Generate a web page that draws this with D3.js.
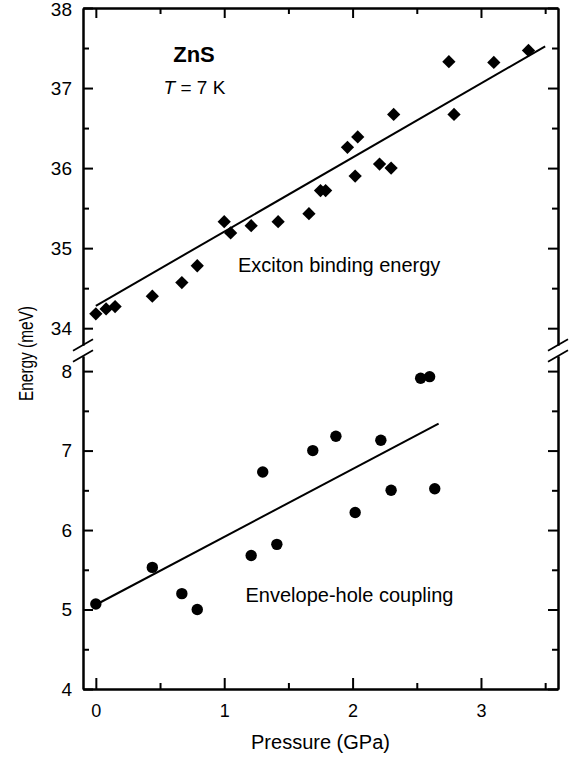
<!DOCTYPE html>
<html lang="en">
<head>
	<meta charset="utf-8">
	<title>ZnS exciton energy vs pressure</title>
	<script src="https://d3js.org/d3.v7.min.js" charset="utf-8"></script>

	<style>
		body {
			margin: 0;
			background: white;
		}

		text {
			font-family: "Liberation Sans", Arial, sans-serif;
			fill: #000;
		}

		.frame path.domain,
		.frame line {
			stroke: #000;
			stroke-width: 2;
		}
	</style>
</head>
<body>

	<div id="main"></div>

	<script type="text/javascript">
		// values
		var excitonP = [0.00, 0.08, 0.15, 0.44, 0.67, 0.79, 1.00, 1.05, 1.21, 1.42, 1.66, 1.75, 1.79, 1.96, 2.02, 2.04, 2.21, 2.30, 2.32, 2.75, 2.79, 3.10, 3.37];
		var excitonE = [34.18, 34.24, 34.27, 34.40, 34.57, 34.78, 35.33, 35.19, 35.28, 35.33, 35.43, 35.72, 35.72, 36.26, 35.90, 36.39, 36.05, 36.00, 36.67, 37.33, 36.67, 37.32, 37.47];

		var couplingP = [0.00, 0.44, 0.67, 0.79, 1.21, 1.30, 1.41, 1.69, 1.87, 2.02, 2.22, 2.30, 2.53, 2.60, 2.64];
		var couplingE = [5.07, 5.53, 5.20, 5.00, 5.68, 6.73, 5.82, 7.00, 7.18, 6.22, 7.13, 6.50, 7.91, 7.93, 6.52];

		// linear fits
		var excitonFitP = [0, 3.5];
		var excitonFitE = [34.28, 37.52];
		var couplingFitP = [0, 2.67];
		var couplingFitE = [5.06, 7.34];

		var xTicks = [0, 1, 2, 3];
		var xMinor = [0.5, 1.5, 2.5, 3.5];
		var topTicks = [34, 35, 36, 37, 38];
		var topMinor = [34.5, 35.5, 36.5, 37.5];
		var botTicks = [4, 5, 6, 7, 8];
		var botMinor = [4.5, 5.5, 6.5, 7.5];

		var width = 574;
		var height = 762;

		var svg = d3.select("#main").append("svg")
			.attr("width", width)
			.attr("height", height);

		var x = d3.scaleLinear()
			.domain([-0.1, 3.6])
			.range([83, 558]);

		// broken y axis: two scales stacked
		var yTop = d3.scaleLinear()
			.domain([33.79, 38])
			.range([345, 8]);

		var yBot = d3.scaleLinear()
			.domain([4, 8.19])
			.range([689, 356]);

		var fmt = d3.format("d");

		function styleAxis(g, size) {
			g.attr("class", "frame")
				.attr("font-family", null)
				.attr("font-size", size);
			g.selectAll("text").attr("fill", "#000");
		}

		// bottom axis with labels
		svg.append("g")
			.attr("transform", "translate(0," + yBot.range()[0] + ")")
			.call(d3.axisBottom(x).tickValues(xTicks).tickSize(-11).tickSizeOuter(0).tickPadding(15).tickFormat(fmt))
			.call(styleAxis, 18);
		svg.append("g")
			.attr("transform", "translate(0," + yBot.range()[0] + ")")
			.call(d3.axisBottom(x).tickValues(xMinor).tickSize(-6).tickSizeOuter(0).tickFormat(""))
			.call(styleAxis, 18);

		// top axis
		svg.append("g")
			.attr("transform", "translate(0," + yTop.range()[1] + ")")
			.call(d3.axisTop(x).tickValues(xTicks).tickSize(-10).tickSizeOuter(0).tickFormat(""))
			.call(styleAxis, 18);
		svg.append("g")
			.attr("transform", "translate(0," + yTop.range()[1] + ")")
			.call(d3.axisTop(x).tickValues(xMinor).tickSize(-6).tickSizeOuter(0).tickFormat(""))
			.call(styleAxis, 18);

		// left and right axes, both panels
		[[yTop, topTicks, topMinor], [yBot, botTicks, botMinor]].forEach(function(p) {
			svg.append("g")
				.attr("transform", "translate(" + x.range()[0] + ",0)")
				.call(d3.axisLeft(p[0]).tickValues(p[1]).tickSize(-10).tickSizeOuter(0).tickPadding(11).tickFormat(fmt))
				.call(styleAxis, 19);
			svg.append("g")
				.attr("transform", "translate(" + x.range()[0] + ",0)")
				.call(d3.axisLeft(p[0]).tickValues(p[2]).tickSize(-6).tickSizeOuter(0).tickFormat(""))
				.call(styleAxis, 19);
			svg.append("g")
				.attr("transform", "translate(" + x.range()[1] + ",0)")
				.call(d3.axisRight(p[0]).tickValues(p[1]).tickSize(-10).tickSizeOuter(0).tickFormat(""))
				.call(styleAxis, 19);
			svg.append("g")
				.attr("transform", "translate(" + x.range()[1] + ",0)")
				.call(d3.axisRight(p[0]).tickValues(p[2]).tickSize(-6).tickSizeOuter(0).tickFormat(""))
				.call(styleAxis, 19);
		});

		// the top label sits against the edge, push it down a touch
		svg.selectAll(".tick text")
			.filter(function(d) { return d === 38; })
			.attr("dy", "0.4em");

		// break marks
		var breaks = [];
		x.range().forEach(function(bx) {
			breaks.push([bx, yTop.range()[0]]);
			breaks.push([bx, yBot.range()[1]]);
		});
		svg.append("g")
			.selectAll("line")
			.data(breaks)
			.enter().append("line")
			.attr("x1", function(d) { return d[0] - 10; })
			.attr("y1", function(d) { return d[1] + 5.7; })
			.attr("x2", function(d) { return d[0] + 10; })
			.attr("y2", function(d) { return d[1] - 5.7; })
			.attr("stroke", "#000")
			.attr("stroke-width", 1.8);

		// fit lines
		var topLine = d3.line()
			.x(function(d) { return x(d[0]); })
			.y(function(d) { return yTop(d[1]); });
		var botLine = d3.line()
			.x(function(d) { return x(d[0]); })
			.y(function(d) { return yBot(d[1]); });

		svg.append("path")
			.datum(d3.zip(excitonFitP, excitonFitE))
			.attr("d", topLine)
			.attr("fill", "none")
			.attr("stroke", "#000")
			.attr("stroke-width", 2);

		svg.append("path")
			.datum(d3.zip(couplingFitP, couplingFitE))
			.attr("d", botLine)
			.attr("fill", "none")
			.attr("stroke", "#000")
			.attr("stroke-width", 2);

		// exciton binding energy: diamonds
		svg.append("g")
			.selectAll("path")
			.data(d3.zip(excitonP, excitonE))
			.enter().append("path")
			.attr("d", d3.symbol(d3.symbolSquare, 88))
			.attr("transform", function(d) {
				return "translate(" + x(d[0]) + "," + yTop(d[1]) + ") rotate(45)";
			})
			.attr("fill", "#000");

		// envelope-hole coupling: dots
		svg.append("g")
			.selectAll("circle")
			.data(d3.zip(couplingP, couplingE))
			.enter().append("circle")
			.attr("cx", function(d) { return x(d[0]); })
			.attr("cy", function(d) { return yBot(d[1]); })
			.attr("r", 5.7)
			.attr("fill", "#000");

		// labels
		svg.append("text")
			.attr("x", 194)
			.attr("y", 62)
			.attr("text-anchor", "middle")
			.attr("font-size", 22)
			.attr("font-weight", "bold")
			.text("ZnS");

		var tLabel = svg.append("text")
			.attr("x", 194.5)
			.attr("y", 94)
			.attr("text-anchor", "middle")
			.attr("font-size", 19);
		tLabel.append("tspan").attr("font-style", "italic").text("T");
		tLabel.append("tspan").text(" = 7 K");

		svg.append("text")
			.attr("x", 238)
			.attr("y", 272)
			.attr("font-size", 20)
			.text("Exciton binding energy");

		svg.append("text")
			.attr("x", 245.5)
			.attr("y", 602)
			.attr("font-size", 20)
			.text("Envelope-hole coupling");

		svg.append("text")
			.attr("x", (x.range()[0] + x.range()[1]) / 2)
			.attr("y", 749)
			.attr("text-anchor", "middle")
			.attr("font-size", 20)
			.text("Pressure (GPa)");

		svg.append("text")
			.attr("transform", "translate(33,353.5) rotate(-90)")
			.attr("text-anchor", "middle")
			.attr("font-size", 20)
			.attr("textLength", 95)
			.attr("lengthAdjust", "spacingAndGlyphs")
			.text("Energy (meV)");

	</script>
</body>
</html>
